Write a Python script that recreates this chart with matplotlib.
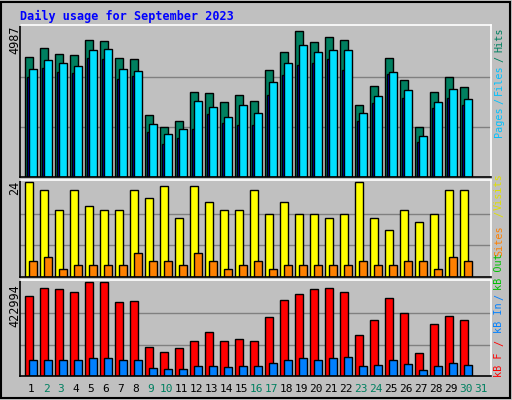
import matplotlib
matplotlib.use("Agg")
import matplotlib.pyplot as plt
import numpy as np

days = list(range(1, 32))
weekend = [2, 3, 9, 10, 16, 17, 23, 24, 30, 31]
hits = [4000, 4300, 4100, 4070, 4560, 4530, 3970, 3930, 2060, 1660, 1860, 2810, 2780, 2480, 2710, 2520, 3570, 4160, 4850, 4490, 4660, 4560, 2410, 3010, 3970, 3210, 1660, 2810, 3310, 2980]
files = [3600, 3900, 3800, 3700, 4230, 4260, 3600, 3540, 1760, 1430, 1590, 2520, 2330, 2000, 2400, 2120, 3170, 3800, 4390, 4160, 4230, 4230, 2120, 2680, 3500, 2880, 1360, 2480, 2910, 2580]
pages = [3310, 3640, 3500, 3470, 3960, 3930, 3270, 3370, 1490, 1100, 1300, 1600, 2090, 1790, 1730, 1730, 2740, 3400, 3730, 3800, 3930, 3570, 1860, 2450, 3440, 2640, 1170, 2280, 2640, 2380]
visits = [24, 22, 17, 22, 18, 17, 17, 22, 20, 23, 15, 23, 19, 17, 17, 22, 16, 19, 16, 16, 15, 16, 24, 15, 12, 17, 14, 16, 22, 22]
sites = [4, 5, 2, 3, 3, 3, 3, 6, 4, 4, 3, 6, 4, 2, 3, 4, 2, 3, 3, 3, 3, 3, 4, 3, 3, 4, 4, 2, 5, 4]
kb_f = [361000, 398000, 393000, 379000, 422994, 422994, 334000, 339000, 130000, 107000, 126000, 158000, 200000, 158000, 167000, 158000, 265000, 343000, 367000, 390000, 398000, 379000, 186000, 251000, 353000, 283000, 102000, 232000, 269000, 251000]
kb_in = [74000, 74000, 70000, 74000, 79000, 79000, 70000, 70000, 37000, 33000, 33000, 46000, 46000, 42000, 46000, 46000, 60000, 70000, 79000, 74000, 79000, 84000, 46000, 51000, 70000, 56000, 28000, 46000, 60000, 51000]
hits_max, visits_max, kb_max = 4987, 24, 422994

BG = "#c0c0c0"
fig = plt.figure(figsize=(5.12, 4.0), dpi=100, facecolor=BG)
fig.patches.append(plt.Rectangle((0.002, 0.004), 0.994, 0.992, transform=fig.transFigure,
                                 fill=False, edgecolor="black", lw=1.5))
mono = "DejaVu Sans Mono"
fig.text(20/512, 1-16/400, "Daily usage for September 2023", color="#0000ff",
         fontfamily=mono, fontweight="bold", fontsize=8.5, va="center")

d = np.arange(1, 31)
xl = (1 - 11/15, 1 - 11/15 + 471/15)
W = 8/15

def mkax(top, bottom, ymax):
    ax = fig.add_axes([20/512, 1-bottom/400, 471/512, (bottom-top)/400])
    ax.set_facecolor(BG)
    ax.set_xlim(*xl)
    ax.set_ylim(0, ymax * (bottom-top) / (bottom-top-2))
    for v in (ymax/3, 2*ymax/3):
        ax.axhline(v, color="#808080", lw=1, zorder=0)
    ax.set_xticks([]); ax.set_yticks([])
    for s in ("left", "bottom"):
        ax.spines[s].set_color("black")
    for s in ("top", "right"):
        ax.spines[s].set_color("white")
    for s in ax.spines.values():
        s.set_linewidth(1.2)
    return ax

ek = dict(edgecolor="black", linewidth=1, align="edge")
a1 = mkax(25, 177, hits_max)
a1.bar(d - 0.4, hits, W, color="#008060", **ek)
a1.bar(d - 0.267, pages, 0.133, color="#0000ff", **ek)
a1.bar(d - 0.133, files, W, color="#00e0ff", **ek)

a2 = mkax(180, 277, visits_max)
a2.bar(d - 0.4, visits, W, color="#ffff00", **ek)
a2.bar(d - 0.133, sites, W, color="#ff8000", **ek)

a3 = mkax(280, 376, kb_max)
a3.bar(d - 0.4, kb_f, W, color="#ff0000", **ek)
a3.bar(d - 0.133, kb_in, W, color="#0080ff", **ek)

for y, t in ((25, str(hits_max)), (181, str(visits_max)), (284, str(kb_max))):
    fig.text(8/512, 1-y/400, t, rotation=90, fontfamily=mono, fontsize=8.5,
             va="top", ha="left")

for day in days:
    x = 31 + (day-1)*15
    fig.text(x/512, 1-389/400, str(day), ha="center", va="center", fontfamily=mono,
             fontsize=8, color="#008060" if day in weekend else "black")

def side(parts):
    for y, t, c in parts:
        fig.text(499/512, 1-y/400, t, rotation=90, color=c, fontfamily=mono,
                 fontsize=7.3, ha="center", va="center")

side([(40, "Hits", "#008060"), (59, "/", "#008060"), (80, "Files", "#00c0ff"),
      (101, "/", "#00c0ff"), (122, "Pages", "#00c0ff")])
side([(192, "Visits", "#e0e000"), (214, "/", "#e0e000"), (241, "Sites", "#ff8000")])
side([(272, "kB Out", "#00c000"), (297, "/", "#0080ff"), (318, "kB In", "#0080ff"),
      (343, "/", "#ff0000"), (365, "kB F", "#ff0000")])

fig.savefig("out.png", dpi=100, facecolor=BG)
